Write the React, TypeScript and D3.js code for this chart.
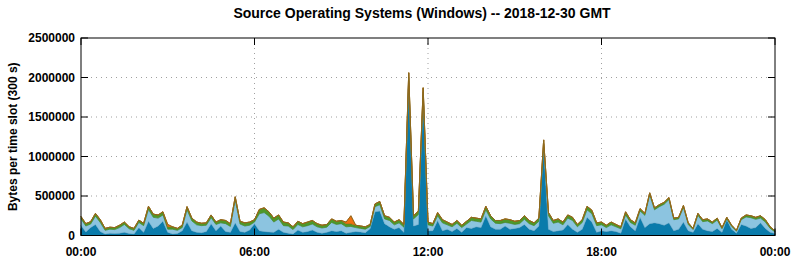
import React, { useEffect, useRef } from "react";
import * as d3 from "d3";

// 10 minute slots over the day, values in kB per slot (axis shows bytes)
const SLOT_MINUTES = 10;
const X_TICKS = ["00:00", "06:00", "12:00", "18:00", "00:00"];
const Y_TICKS = [0, 500000, 1000000, 1500000, 2000000, 2500000];

const darkBlue = [
  130, 45, 100, 140, 50, 20, 30, 25, 30, 40, 25, 20, 100, 40, 180, 90, 120, 180, 40, 20, 25, 60, 170, 60, 40, 35, 50, 150, 60,
  120, 50, 40, 160, 50, 40, 70, 150, 60, 50, 45, 40, 80, 40, 30, 20, 70, 40, 50, 70, 40, 30, 40, 60, 50, 60, 30, 40, 50,
  45, 35, 90, 300, 310, 150, 110, 80, 100, 40, 1960, 120, 140, 1780, 60, 60, 190, 60, 80, 50, 90, 40, 100, 90, 110, 100, 250, 110, 80,
  80, 120, 80, 90, 100, 140, 80, 60, 120, 1120, 80, 50, 60, 70, 140, 80, 40, 80, 230, 170, 40, 60, 50, 60, 50, 30, 210, 110, 60,
  230, 100, 150, 160, 150, 130, 160, 60, 80, 170, 60, 40, 150, 80, 60, 50, 90, 40, 200, 80, 30, 140, 120, 90, 100, 160, 90, 40, 25,
];
const lightBlue = [
  80, 75, 45, 105, 115, 45, 50, 50, 70, 100, 60, 45, 65, 85, 150, 140, 100, 80, 40, 60, 40, 40, 155, 125, 95, 90, 80, 75, 80,
  40, 100, 75, 290, 95, 80, 60, 20, 215, 240, 200, 130, 130, 85, 90, 55, 70, 70, 75, 75, 70, 65, 65, 105, 90, 90, 80, 75, 50,
  45, 45, 25, 65, 80, 60, 80, 55, 60, 65, 40, 90, 125, 40, 75, 60, 60, 100, 55, 60, 65, 60, 45, 100, 70, 70, 75, 100, 75,
  70, 45, 75, 50, 50, 65, 70, 65, 60, 40, 170, 105, 110, 65, 80, 110, 70, 85, 95, 105, 85, 75, 50, 75, 60, 55, 50, 55, 70,
  80, 155, 365, 165, 215, 265, 295, 140, 130, 185, 80, 35, 105, 95, 125, 100, 105, 45, 10, 35, 25, 60, 115, 135, 105, 60, 80, 50, 20,
];
const green = [
  30, 30, 30, 35, 35, 25, 25, 25, 30, 30, 25, 25, 30, 30, 40, 40, 40, 40, 30, 30, 25, 30, 40, 35, 35, 30, 30, 35, 30,
  40, 40, 35, 40, 35, 40, 40, 30, 55, 60, 55, 50, 50, 45, 40, 35, 40, 40, 45, 45, 40, 35, 35, 45, 40, 40, 40, 35, 30,
  30, 30, 25, 35, 40, 40, 40, 35, 40, 35, 60, 40, 45, 50, 35, 30, 40, 40, 35, 30, 35, 30, 35, 40, 40, 40, 45, 40, 35,
  40, 45, 45, 40, 40, 45, 40, 35, 40, 50, 40, 35, 40, 35, 40, 40, 30, 35, 45, 45, 35, 35, 30, 35, 30, 25, 40, 35, 30,
  30, 25, 25, 25, 25, 25, 25, 20, 20, 25, 20, 15, 25, 25, 25, 20, 25, 15, 20, 15, 10, 20, 25, 25, 25, 30, 30, 20, 15,
];
// orange only shows up in a few slots: [slot, value]
const orangeSlots: [number, number][] = [[18, 30], [55, 20], [56, 100]];

const keys = ["darkBlue", "lightBlue", "green", "orange"];
const colors: Record<string, string> = {
  darkBlue: "#0a7bab",
  lightBlue: "#8cc4e0",
  green: "#4e982a",
  orange: "#f07010",
};
const strokes: Record<string, string> = {
  darkBlue: "#06628a",
  lightBlue: "#6fb0d2",
  green: "#3f8022",
  orange: "#c85a08",
};

const W = 795;
const H = 260;
const left = 81;
const right = 775;
const top = 38;
const bottom = 235.5;

export default function App() {
  const ref = useRef<SVGSVGElement>(null);

  useEffect(() => {
    const svg = d3.select(ref.current);
    svg.selectAll("*").remove();

    const rows = darkBlue.map((d, i) => {
      const o = orangeSlots.find((s) => s[0] === i);
      return {
        t: i * SLOT_MINUTES,
        darkBlue: d * 1000,
        lightBlue: lightBlue[i] * 1000,
        green: green[i] * 1000,
        orange: (o ? o[1] : 0) * 1000,
      };
    });

    const x = d3.scaleLinear().domain([0, 1440]).range([left, right]);
    const y = d3.scaleLinear().domain([0, 2500000]).range([bottom, top]);

    const font = "'Liberation Sans', Arial, Helvetica, sans-serif";

    // grid
    const grid = svg.append("g").attr("stroke", "#a0a0a0").attr("stroke-dasharray", "1,4");
    grid.selectAll("line.h")
      .data(Y_TICKS.slice(1, -1))
      .enter()
      .append("line")
      .attr("x1", left).attr("x2", right)
      .attr("y1", (d) => y(d)).attr("y2", (d) => y(d));
    grid.selectAll("line.v")
      .data([360, 720, 1080])
      .enter()
      .append("line")
      .attr("y1", top).attr("y2", bottom)
      .attr("x1", (d) => x(d)).attr("x2", (d) => x(d));

    const stack = d3.stack<any>().keys(keys);
    const series = stack(rows);

    const area = d3.area<any>()
      .x((d) => x(d.data.t))
      .y0((d) => y(d[0]))
      .y1((d) => y(d[1]));

    svg.append("g")
      .selectAll("path")
      .data(series)
      .enter()
      .append("path")
      .attr("d", area)
      .attr("fill", (s) => colors[s.key])
      .attr("stroke", (s) => strokes[s.key])
      .attr("stroke-width", 0.6);

    // top outline
    const topLine = d3.line<any>()
      .x((d) => x(d.data.t))
      .y((d) => y(d[1]));
    svg.append("path")
      .attr("d", topLine(series[series.length - 1]))
      .attr("fill", "none")
      .attr("stroke", "#8a6a1e")
      .attr("stroke-width", 1);

    // frame
    svg.append("rect")
      .attr("x", left).attr("y", top)
      .attr("width", right - left).attr("height", bottom - top)
      .attr("fill", "none").attr("stroke", "black");

    // tick marks inside frame
    const ticks = svg.append("g").attr("stroke", "black");
    Y_TICKS.forEach((v) => {
      ticks.append("line").attr("x1", left).attr("x2", left + 7).attr("y1", y(v)).attr("y2", y(v));
      ticks.append("line").attr("x1", right).attr("x2", right - 7).attr("y1", y(v)).attr("y2", y(v));
    });
    X_TICKS.forEach((_, i) => {
      const px = x(i * 360);
      ticks.append("line").attr("x1", px).attr("x2", px).attr("y1", bottom).attr("y2", bottom - 7);
      ticks.append("line").attr("x1", px).attr("x2", px).attr("y1", top).attr("y2", top + 7);
    });

    // labels
    svg.append("g")
      .selectAll("text")
      .data(Y_TICKS)
      .enter()
      .append("text")
      .attr("x", left - 6)
      .attr("y", (d) => y(d) + 4)
      .attr("text-anchor", "end")
      .attr("font-family", font)
      .attr("font-weight", "bold")
      .attr("font-size", 12)
      .text((d) => String(d));

    svg.append("g")
      .selectAll("text")
      .data(X_TICKS)
      .enter()
      .append("text")
      .attr("x", (_, i) => x(i * 360))
      .attr("y", 256)
      .attr("text-anchor", "middle")
      .attr("font-family", font)
      .attr("font-weight", "bold")
      .attr("font-size", 12)
      .text((d) => d);

    svg.append("text")
      .attr("x", 422)
      .attr("y", 18)
      .attr("text-anchor", "middle")
      .attr("font-family", font)
      .attr("font-weight", "bold")
      .attr("font-size", 14)
      .text("Source Operating Systems (Windows) -- 2018-12-30 GMT");

    svg.append("text")
      .attr("transform", `translate(17, ${(top + bottom) / 2}) rotate(-90)`)
      .attr("text-anchor", "middle")
      .attr("font-family", font)
      .attr("font-weight", "bold")
      .attr("font-size", 12)
      .text("Bytes per time slot (300 s)");
  }, []);

  return (
    <svg
      ref={ref}
      width={W}
      height={H}
      style={{ position: "absolute", left: 0, top: 0, background: "white" }}
    />
  );
}
